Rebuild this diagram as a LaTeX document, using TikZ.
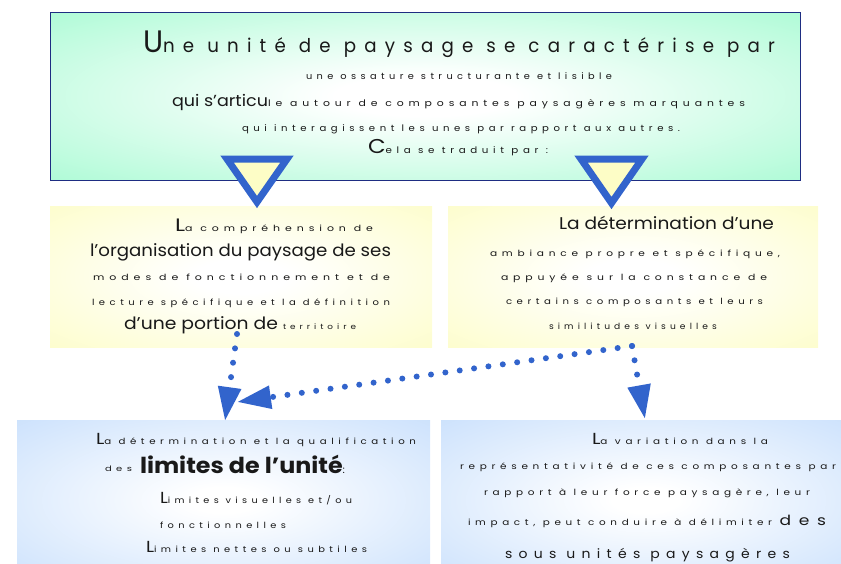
\documentclass[tikz,border=0pt]{standalone}
\usepackage{fontspec}
\setmainfont{Poppins}
\newfontfamily\ls[LetterSpace=45]{Poppins}
\usepackage{graphicx}
\usetikzlibrary{arrows.meta}
\definecolor{mint}{RGB}{158,250,206}
\definecolor{pale}{RGB}{253,253,198}
\definecolor{sky}{RGB}{198,222,252}
\definecolor{dotblue}{RGB}{50,100,204}
\definecolor{navy}{RGB}{30,45,130}
\definecolor{ink}{RGB}{25,25,25}
\pgfdeclareradialshading{softmint}{\pgfpoint{0bp}{0bp}}{color(0bp)=(white); color(6bp)=(white); color(42bp)=(mint); color(50bp)=(mint)}
\pgfdeclareradialshading{softpale}{\pgfpoint{0bp}{0bp}}{color(0bp)=(white); color(6bp)=(white); color(40bp)=(pale); color(50bp)=(pale)}
\pgfdeclareradialshading{softsky}{\pgfpoint{0bp}{0bp}}{color(0bp)=(white); color(4bp)=(white); color(40bp)=(sky); color(50bp)=(sky)}
\newcommand\fw[2]{\resizebox{#1pt}{\height}{#2}}
\newcommand\fs[1]{\fontsize{#1}{#1}\selectfont}
\begin{document}
\begin{tikzpicture}[x=1pt,y=-1pt,
  txt/.style={anchor=base west, inner sep=0pt, outer sep=0pt, text=ink},
  box/.style={inner sep=0pt, outer sep=0pt},
  tri/.style={draw=dotblue, fill=pale, line width=7pt, line join=miter},
  dots/.style={draw=dotblue, line width=6pt, line cap=round, dash pattern=on 0pt off 14.5pt,
    -{Triangle[length=34pt,width=22pt]}}]
\useasboundingbox (0,0) rectangle (841,563);
\clip (0,0) rectangle (841,563);
% boxes
\node[box, shading=softmint, minimum width=750pt, minimum height=168pt] (top) at (425,96) {};
\draw[navy, line width=0.9pt] (top.north west) rectangle (top.south east);
\node[box, shading=softpale, minimum width=382pt, minimum height=141pt] (yl) at (241,276.5) {};
\node[box, shading=softpale, minimum width=370pt, minimum height=141pt] (yr) at (633,276.5) {};
\node[box, shading=softsky, minimum width=413pt, minimum height=160pt] (bl) at (223.5,500) {};
\node[box, shading=softsky, minimum width=409pt, minimum height=160pt] (br) at (645.5,500) {};
% triangles
\draw[tri] (227,159) -- (287,159) -- (257,202) -- cycle;
\draw[tri] (581,159) -- (642,159) -- (611.5,203) -- cycle;
% connectors
\coordinate (s1) at (237,334);
\coordinate (e1) at (225,421);
\coordinate (s2) at (632,346);
\coordinate (e2) at (237,402);
\coordinate (e3) at (645,419);
\draw[dots] (s1) -- (e1);
\draw[dots] (s2) -- (e2);
\draw[dots] (s2) -- (e3);
% top box text
\node[txt] (t1) at (143,52) {\fw{632}{{\fs{31}U}{\ls\fs{19}ne unité de paysage se caractérise par}}};
\node[txt] (t2) at (306,79) {\fw{306}{\ls\fs{9}une ossature structurante et lisible}};
\node[txt] (t3) at (172,106) {\fw{96}{\fs{16}qui s'articu}};
\node[txt] (t4) at (268,106) {\fw{477}{\ls\fs{9}le autour de composantes paysagères marquantes}};
\node[txt] (t5) at (242,131) {\fw{438}{\ls\fs{9}qui interagissent les unes par rapport aux autres.}};
\node[txt] (t6) at (368,153) {\fw{180}{{\fs{20}C}{\ls\fs{9}ela se traduit par :}}};
% left yellow
\node[txt] (y1) at (175,231) {\fw{198}{{\fs{18}L}{\ls\fs{8.5}a compréhension de}}};
\node[txt] (y2) at (90,256) {\fw{301}{\fs{17}l’organisation du paysage de ses}};
\node[txt] (y3) at (93,280) {\fw{297}{\ls\fs{8.5}modes de fonctionnement et de}};
\node[txt] (y4) at (92,305) {\fw{298}{\ls\fs{8.5}lecture spécifique et la définition}};
\node[txt] (y5) at (124,329) {\fw{154}{\fs{17}d’une portion de}};
\node[txt] (y6) at (283,329) {\fw{73}{\ls\fs{7.5}territoire}};
% right yellow
\node[txt] (r1) at (559,229) {\fw{215}{\fs{17}La détermination d’une}};
\node[txt] (r2) at (490,256) {\fw{290}{\ls\fs{8.5}ambiance propre et spécifique,}};
\node[txt] (r3) at (501,280) {\fw{266}{\ls\fs{8.5}appuyée sur la constance de}};
\node[txt] (r4) at (506,304) {\fw{257}{\ls\fs{8.5}certains composants et leurs}};
\node[txt] (r5) at (549,329) {\fw{168}{\ls\fs{8.5}similitudes visuelles}};
% left blue
\node[txt] (b1) at (96,444) {\fw{320}{{\fs{16}L}{\ls\fs{8.5}a détermination et la qualification}}};
\node[txt] (b2) at (105,471) {\fw{27}{\ls\fs{7.5}des}};
\node[txt] (b3) at (140,473) {\fw{205}{{\bfseries\fs{22}limites de l’unité}{\fs{10}:}}};
\node[txt] (b4) at (160,503) {\fw{192}{{\fs{16}L}{\ls\fs{8.5}imites visuelles et/ou}}};
\node[txt] (b5) at (160,528) {\fw{126}{\ls\fs{8.5}fonctionnelles}};
\node[txt] (b6) at (146,552) {\fw{221}{{\fs{16}L}{\ls\fs{8.5}imites nettes ou subtiles}}};
% right blue
\node[txt] (c1) at (592,444) {\fw{176}{{\fs{16}L}{\ls\fs{8.5}a variation dans la}}};
\node[txt] (c2) at (460,469) {\fw{376}{\ls\fs{8.5}représentativité de ces composantes par}};
\node[txt] (c3) at (484,495) {\fw{326}{\ls\fs{8.5}rapport à leur force paysagère, leur}};
\node[txt] (c4) at (468,525) {\fw{358}{{\ls\fs{8.5}impact, peut conduire à délimiter }{\ls\fs{14}des}}};
\node[txt] (c5) at (505,558) {\fw{285}{\ls\fs{13}sous unités paysagères}};
\end{tikzpicture}
\end{document}
